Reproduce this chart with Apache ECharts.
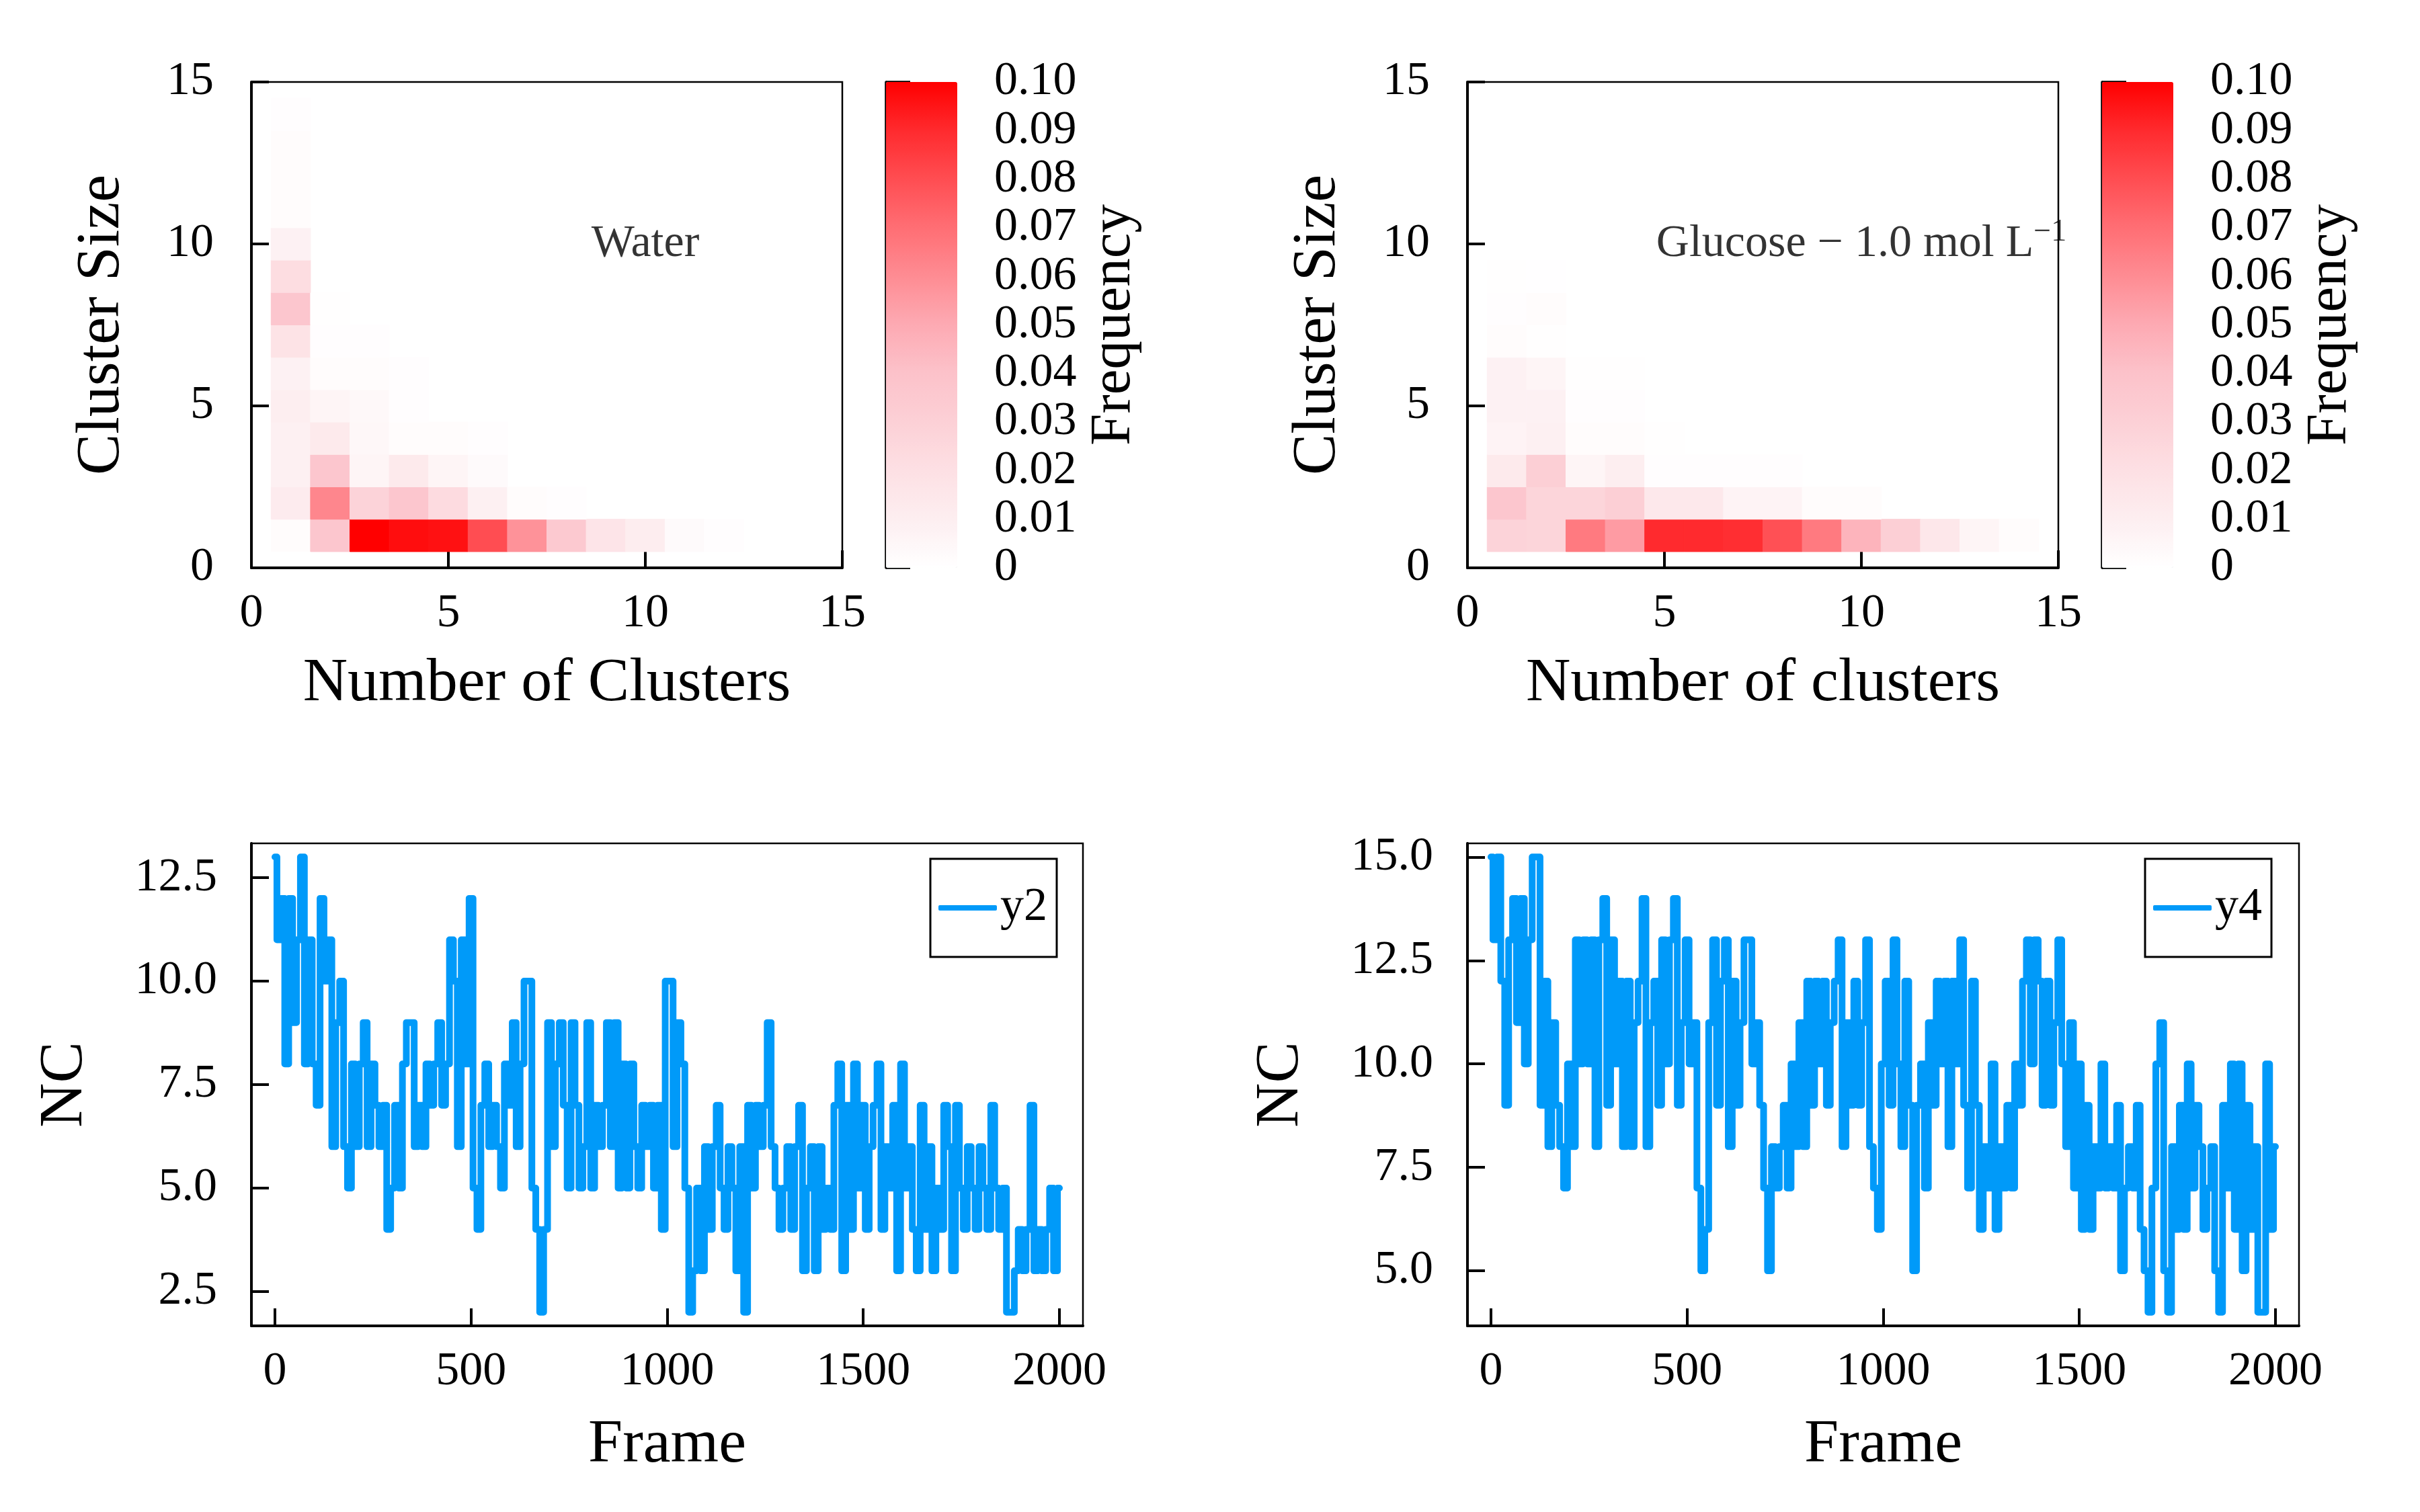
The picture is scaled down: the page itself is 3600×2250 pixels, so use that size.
<!DOCTYPE html>
<html>
<head>
<meta charset="UTF-8">
<title>cluster statistics</title>
<script src="https://cdn.jsdelivr.net/npm/echarts@6/dist/echarts.min.js"></script>
<style>
    html, body { margin: 0; padding: 0; background: #fff; }
    #main { width: 3600px; height: 2250px; }
</style>
</head>
<body>
<div id="main"></div>
<script type="text/javascript">
    var FONT = 'Liberation Serif';
    var BLUE = '#009af9';

    // frequency[clusterSize-1][numberOfClusters-1], missing entries are 0
    var waterFreq = [
        [0.002, 0.037, 0.100, 0.097, 0.096, 0.080, 0.058, 0.035, 0.017, 0.011, 0.003, 0.001],
        [0.012, 0.062, 0.028, 0.037, 0.023, 0.009, 0.002, 0.001],
        [0.009, 0.037, 0.006, 0.013, 0.006, 0.003],
        [0.009, 0.013, 0.005, 0.002, 0.002, 0.001],
        [0.010, 0.006, 0.004, 0.001],
        [0.008, 0.002, 0.002, 0.001],
        [0.018, 0.001, 0.001],
        [0.037, 0.0005],
        [0.022],
        [0.008],
        [0.002],
        [0.002],
        [0.002],
        [0.001]
    ];
    var glucoseFreq = [
        [0.028, 0.027, 0.066, 0.055, 0.090, 0.090, 0.089, 0.079, 0.066, 0.046, 0.031, 0.015, 0.006, 0.002],
        [0.037, 0.027, 0.027, 0.031, 0.014, 0.014, 0.007, 0.007, 0.002, 0.002],
        [0.013, 0.031, 0.006, 0.010, 0.001, 0.001, 0.001, 0.001],
        [0.007, 0.009, 0.002, 0.002, 0.0005],
        [0.008, 0.008, 0.001, 0.001],
        [0.008, 0.006, 0.0005, 0.0005],
        [0.002, 0.0005],
        [0.001, 0.002],
        [0.0005, 0.0003]
    ];
    // colour stops at 0, 0.01, ... 0.10
    var freqColors = ['#ffffff', '#fdeef0', '#fde0e4', '#fcd0d6', '#fcc2ca', '#fdaab3',
                      '#fe8c93', '#ff6e74', '#ff4d52', '#ff2a2e', '#ff0000'];

    // number of clusters, sampled every 10 frames (0..2000)
    var frameStep = 10;
    var ncWater = [
        13, 11, 12, 8, 12, 9, 11, 13, 8, 11,
        8, 7, 12, 10, 11, 6, 9, 10, 6, 5,
        8, 6, 8, 9, 6, 8, 7, 6, 7, 4,
        5, 7, 5, 8, 9, 9, 6, 7, 6, 8,
        7, 8, 9, 7, 8, 11, 10, 6, 11, 8,
        12, 5, 4, 7, 8, 6, 7, 6, 5, 8,
        7, 9, 6, 8, 10, 10, 5, 4, 2, 4,
        9, 6, 8, 9, 7, 5, 9, 7, 5, 6,
        9, 5, 7, 6, 7, 9, 6, 9, 5, 8,
        5, 8, 6, 5, 7, 6, 7, 5, 7, 4,
        10, 10, 6, 9, 8, 5, 2, 3, 5, 3,
        6, 4, 6, 7, 5, 4, 6, 5, 3, 6,
        2, 7, 5, 7, 6, 7, 9, 6, 5, 4,
        5, 6, 4, 6, 7, 3, 5, 6, 3, 6,
        4, 5, 4, 7, 8, 3, 7, 4, 8, 5,
        7, 4, 6, 7, 8, 4, 6, 5, 7, 3,
        8, 5, 6, 4, 3, 7, 4, 6, 3, 5,
        4, 7, 6, 3, 7, 5, 4, 6, 5, 4,
        6, 5, 4, 7, 5, 4, 5, 2, 2, 3,
        4, 3, 4, 7, 3, 4, 3, 4, 5, 3,
        5
    ];
    var ncGlucose = [
        15, 13, 15, 12, 9, 13, 14, 11, 14, 10,
        13, 15, 15, 9, 12, 8, 11, 9, 8, 7,
        10, 8, 13, 10, 13, 10, 13, 8, 13, 14,
        9, 13, 10, 12, 8, 12, 8, 11, 12, 14,
        8, 11, 12, 9, 13, 10, 13, 14, 9, 11,
        13, 10, 11, 7, 5, 6, 11, 13, 9, 12,
        13, 8, 12, 9, 11, 13, 13, 10, 11, 9,
        7, 5, 8, 7, 8, 9, 7, 10, 8, 11,
        8, 12, 9, 12, 10, 12, 9, 11, 12, 13,
        8, 11, 9, 12, 9, 11, 13, 8, 7, 6,
        10, 12, 9, 13, 10, 8, 12, 9, 5, 9,
        10, 7, 11, 9, 12, 10, 12, 8, 12, 10,
        13, 9, 7, 12, 9, 6, 8, 7, 10, 6,
        8, 7, 9, 7, 10, 9, 12, 13, 10, 13,
        12, 9, 12, 9, 11, 13, 10, 8, 11, 7,
        10, 6, 9, 6, 8, 7, 10, 7, 8, 7,
        9, 5, 7, 8, 7, 9, 6, 5, 4, 7,
        10, 11, 5, 4, 8, 6, 9, 6, 10, 7,
        9, 8, 6, 7, 8, 5, 4, 9, 7, 10,
        6, 10, 5, 9, 6, 8, 4, 4, 10, 6,
        8
    ];

    function toCells(m) {
        var out = [];
        m.forEach(function (row, i) {
            row.forEach(function (v, j) {
                if (v > 0) out.push([j + 1, i + 1, v]);
            });
        });
        return out;
    }
    function toLine(arr) {
        return arr.map(function (v, i) { return [i * frameStep, v]; });
    }

    function renderCell(params, api) {
        var x = api.value(0), y = api.value(1);
        var p0 = api.coord([x - 0.5, y + 0.5]);
        var p1 = api.coord([x + 0.5, y - 0.5]);
        var c = api.visual('color');
        return {
            type: 'rect',
            shape: { x: p0[0], y: p0[1], width: p1[0] - p0[0], height: p1[1] - p0[1] },
            style: { fill: c, stroke: c, lineWidth: 1 }
        };
    }

    var black = '#000';
    function nameStyle(size) {
        return { fontFamily: FONT, fontSize: size, color: black };
    }
    function plain(v) { return String(v); }
    function oneDecimal(v) { return v.toFixed(1); }

    function xAxisOf(gi, name, min, max, ticks, gap) {
        var ax = {
            type: 'value', gridIndex: gi, min: min, max: max,
            name: name, nameLocation: 'middle', nameGap: gap, nameTextStyle: nameStyle(92),
            axisLine: { show: true, onZero: false, lineStyle: { color: black, width: 4 } },
            axisTick: { show: true, inside: true, length: 26, lineStyle: { color: black, width: 4 } },
            axisLabel: { fontFamily: FONT, fontSize: 70, color: black, margin: 34, formatter: plain },
            splitLine: { show: false }
        };
        if (ticks) {
            ax.axisTick.customValues = ticks;
            ax.axisLabel.customValues = ticks;
        } else {
            ax.interval = 5;
        }
        return ax;
    }
    function yAxisOf(gi, name, min, max, ticks, gap, margin, fmt) {
        var ax = xAxisOf(gi, name, min, max, ticks, gap);
        ax.nameRotate = 90;
        ax.axisLabel.margin = margin;
        if (fmt) ax.axisLabel.formatter = fmt;
        return ax;
    }

    var heatGrids = [
        { left: 374, top: 122, width: 879, height: 723 },
        { left: 2183, top: 122, width: 879, height: 723 }
    ];
    var lineGrids = [
        { left: 374, top: 1255, width: 1237, height: 718 },
        { left: 2183, top: 1255, width: 1237, height: 718 }
    ];
    var barGrids = [
        { left: 1318, top: 122, width: 106, height: 723 },
        { left: 3127, top: 122, width: 106, height: 723 }
    ];

    var grids = heatGrids.concat(lineGrids).map(function (g) {
        return Object.assign({ show: true, borderColor: black, borderWidth: 2.5, backgroundColor: 'transparent' }, g);
    }).concat(barGrids.map(function (g) { return Object.assign({ show: false }, g); }));

    function colorbarAxis(gi) {
        return {
            type: 'value', gridIndex: gi, position: 'right', min: 0, max: 0.1, interval: 0.01,
            name: 'Frequency', nameLocation: 'middle', nameRotate: 90, nameGap: 191,
            nameTextStyle: nameStyle(85),
            axisLine: { show: true, lineStyle: { color: black, width: 3.5 } },
            axisTick: { show: true, inside: false, length: 36, lineStyle: { color: black, width: 3.5 } },
            axisLabel: {
                fontFamily: FONT, fontSize: 70, color: black, margin: 55,
                formatter: function (v) { return v === 0 ? '0' : v.toFixed(2); }
            },
            splitLine: { show: false }
        };
    }
    function colorbarMap(si, g) {
        return {
            type: 'continuous', seriesIndex: si, dimension: 2, min: 0, max: 0.1,
            calculable: false, hoverLink: false, padding: 0,
            left: g.left, top: g.top, itemWidth: g.width, itemHeight: g.height,
            inRange: { color: freqColors }
        };
    }
    function legendOf(name, right) {
        return {
            data: [{ name: name, icon: 'roundRect' }], right: right, top: 1278, orient: 'vertical',
            padding: [38, 14, 38, 12], borderColor: black, borderWidth: 3,
            itemWidth: 87, itemHeight: 8, itemStyle: { color: BLUE, borderWidth: 0 },
            textStyle: { fontFamily: FONT, fontSize: 70, color: black }
        };
    }
    function annotation(gi, label) {
        return {
            type: 'scatter', xAxisIndex: gi, yAxisIndex: gi, silent: true,
            symbolSize: 1, itemStyle: { color: 'transparent' },
            data: [{ value: [10, 10] }],
            label: {
                show: true, position: 'inside', formatter: label,
                fontFamily: FONT, fontSize: 68, color: black,
                rich: {
                    m: { fontFamily: FONT, fontSize: 68, color: black },
                    s: { fontFamily: FONT, fontSize: 46, color: black, padding: [0, 0, 34, 0] }
                }
            }
        };
    }
    function lineSeries(gi, name, arr) {
        return {
            type: 'line', name: name, xAxisIndex: gi, yAxisIndex: gi,
            data: toLine(arr), step: 'middle', symbol: 'none', showSymbol: false,
            lineStyle: { color: BLUE, width: 10, cap: 'round', join: 'round' }, itemStyle: { color: BLUE }
        };
    }

    var myChart = echarts.init(document.getElementById('main'), null, { renderer: 'canvas' });
    var option = {
        animation: false,
        backgroundColor: '#fff',
        textStyle: { fontFamily: FONT },
        grid: grids,
        xAxis: [
            xAxisOf(0, 'Number of Clusters', 0, 15, null, 127),
            xAxisOf(1, 'Number of clusters', 0, 15, null, 127),
            xAxisOf(2, 'Frame', -60, 2060, [0, 500, 1000, 1500, 2000], 132),
            xAxisOf(3, 'Frame', -60, 2060, [0, 500, 1000, 1500, 2000], 132),
            { type: 'value', gridIndex: 4, show: false, min: 0, max: 1 },
            { type: 'value', gridIndex: 5, show: false, min: 0, max: 1 }
        ],
        yAxis: [
            yAxisOf(0, 'Cluster Size', 0, 15, null, 176, 56),
            yAxisOf(1, 'Cluster Size', 0, 15, null, 176, 56),
            yAxisOf(2, 'NC', 1.67, 13.33, [2.5, 5, 7.5, 10, 12.5], 231, 51, oneDecimal),
            yAxisOf(3, 'NC', 3.67, 15.33, [5, 7.5, 10, 12.5, 15], 231, 51, oneDecimal),
            colorbarAxis(4),
            colorbarAxis(5)
        ],
        visualMap: [colorbarMap(0, barGrids[0]), colorbarMap(1, barGrids[1])],
        legend: [legendOf('y2', 2028), legendOf('y4', 221)],
        series: [
            {
                type: 'custom', name: 'water', xAxisIndex: 0, yAxisIndex: 0,
                renderItem: renderCell, data: toCells(waterFreq), encode: { x: 0, y: 1 }
            },
            {
                type: 'custom', name: 'glucose', xAxisIndex: 1, yAxisIndex: 1,
                renderItem: renderCell, data: toCells(glucoseFreq), encode: { x: 0, y: 1 }
            },
            lineSeries(2, 'y2', ncWater),
            lineSeries(3, 'y4', ncGlucose),
            annotation(0, 'Water'),
            annotation(1, '{m|Glucose − 1.0 mol L}{s|−1}')
        ]
    };
    myChart.setOption(option);
</script>
</body>
</html>
